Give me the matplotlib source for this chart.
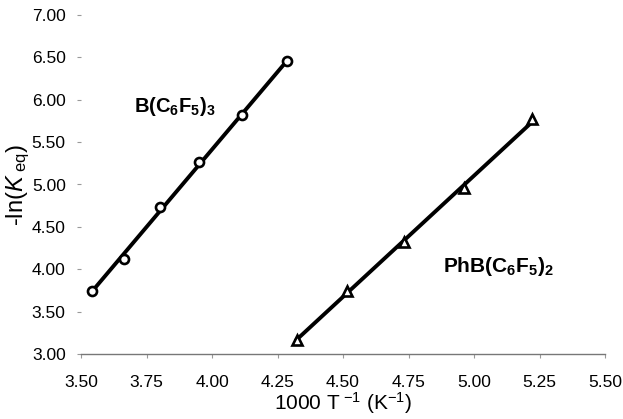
import matplotlib
matplotlib.use("Agg")
import matplotlib.pyplot as plt
import numpy as np

plt.rcParams['font.family'] = ['Liberation Sans', 'DejaVu Sans']
plt.rcParams['mathtext.fontset'] = 'custom'
plt.rcParams['mathtext.rm'] = 'Liberation Sans'
plt.rcParams['mathtext.it'] = 'Liberation Sans:italic'
plt.rcParams['mathtext.bf'] = 'Liberation Sans:bold'

# B(C6F5)3 data
x_b = [3.541, 3.665, 3.802, 3.950, 4.116, 4.288]
y_b = [3.746, 4.12, 4.737, 5.268, 5.818, 6.455]
# PhB(C6F5)2 data
x_ph = [4.323, 4.514, 4.733, 4.962, 5.223]
y_ph = [3.165, 3.746, 4.324, 4.954, 5.771]

xticks = [3.50, 3.75, 4.00, 4.25, 4.50, 4.75, 5.00, 5.25, 5.50]
yticks = [3.00, 3.50, 4.00, 4.50, 5.00, 5.50, 6.00, 6.50, 7.00]

fig = plt.figure(figsize=(6.23, 4.19), dpi=100)
ax = fig.add_axes([81/623, 65/419, 524/623, 339/419])

# linear fits
for xs, ys, mk in [(x_b, y_b, 'o'), (x_ph, y_ph, '^')]:
    p = np.polyfit(xs, ys, 1)
    xx = np.array([min(xs), max(xs)])
    ax.plot(xx, np.polyval(p, xx), color='black', lw=2.8, zorder=2)
    ax.plot(xs, ys, linestyle='none', marker=mk, ms=6.5, mfc='white',
            mec='black', mew=1.9, zorder=3)

ax.set_xlim(3.5, 5.5)
ax.set_ylim(3.0, 7.0)
ax.set_xticks(xticks)
ax.set_yticks(yticks)
ax.set_xticklabels(['%.2f' % v for v in xticks], fontsize=12.5)
ax.set_yticklabels(['%.2f' % v for v in yticks], fontsize=12.5)

for s in ['top', 'right', 'left']:
    ax.spines[s].set_visible(False)
ax.spines['bottom'].set_color('#777777')
ax.spines['bottom'].set_linewidth(1.0)
ax.tick_params(axis='x', length=3, color='#999999', pad=12)
ax.tick_params(axis='y', length=3, color='#999999', pad=8)

ax.set_xlabel(r'1000 T$^{\ \mathregular{-1}}$ (K$^{\mathregular{-1}}$)', fontsize=15, labelpad=0)
ax.set_ylabel(r'-ln($\mathit{K}$$_{\ \mathregular{eq}}$)', fontsize=17, labelpad=0)

ax.text(3.702, 5.92, r'B(C$_{\mathbf{6}}$F$_{\mathbf{5}}$)$_{\mathbf{3}}$', fontsize=14.5,
        fontweight='bold', ha='left', va='center')
ax.text(4.88, 4.03, r'PhB(C$_{\mathbf{6}}$F$_{\mathbf{5}}$)$_{\mathbf{2}}$', fontsize=15,
        fontweight='bold', ha='left', va='center')

fig.savefig('out.png', dpi=100)
